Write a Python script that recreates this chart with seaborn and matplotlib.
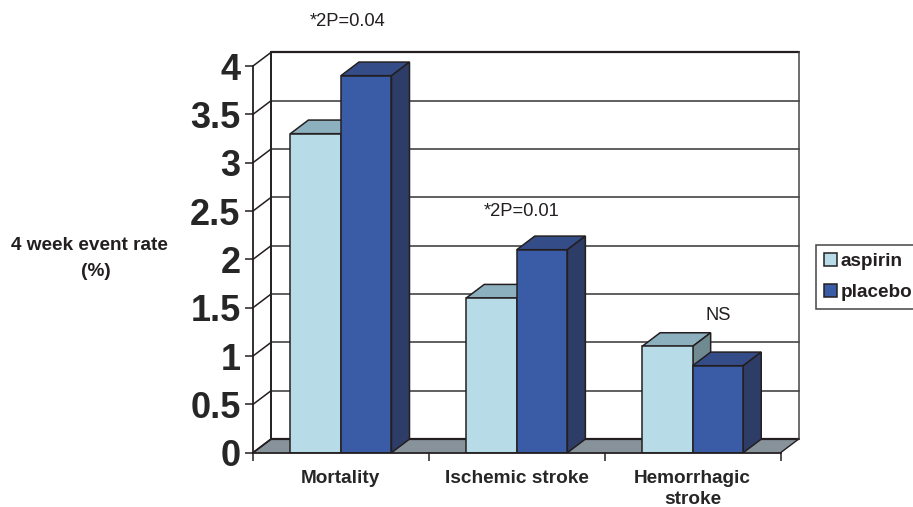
import pandas as pd
import numpy as np
import matplotlib
matplotlib.use('Agg')
import matplotlib.pyplot as plt
import seaborn as sns

outcomes = ['Mortality', 'Ischemic stroke', 'Hemorrhagic\nstroke']
aspirin = [3.3, 1.6, 1.1]
placebo = [3.9, 2.1, 0.9]
y_ticks = [0, 0.5, 1, 1.5, 2, 2.5, 3, 3.5, 4]
y_labels = ['0', '0.5', '1', '1.5', '2', '2.5', '3', '3.5', '4']

ink = '#231F20'
front_cols = {'aspirin': '#B7DCE7', 'placebo': '#3A5BA5'}
top_cols = {'aspirin': '#8DB0BF', 'placebo': '#344D88'}
side_cols = {'aspirin': '#6F8A91', 'placebo': '#2E3C68'}
floor_col = '#87929A'

sns.set_style('white')
plt.rcParams['font.family'] = ['Liberation Sans', 'DejaVu Sans']
plt.rcParams['text.color'] = ink

W, H = 913, 507
fig = plt.figure(figsize=(W / 100, H / 100), dpi=100)
left, right, top, bottom = 253, 780.6, 66, 452.7
ax = fig.add_axes([left / W, 1 - bottom / H, (right - left) / W, (bottom - top) / H])

df = pd.DataFrame({
    'outcome': outcomes * 2,
    'rate': aspirin + placebo,
    'group': ['aspirin'] * 3 + ['placebo'] * 3,
})
sns.barplot(data=df, x='outcome', y='rate', hue='group', palette=front_cols, saturation=1,
            width=0.575, gap=0, edgecolor=ink, linewidth=1.1, ax=ax, legend=False)

ax.set_xlim(-0.5, 2.5)
ax.set_ylim(0, 4)

# depth of the fake 3d box, in data units
dx = 18 / ((right - left) / 3)
dy = 13.6 / ((bottom - top) / 4)

# walls and grid
x0, x1 = -0.5, 2.5
ax.fill([x0, x0 + dx, x1 + dx, x1], [0, dy, dy, 0], color=floor_col, lw=0, zorder=1, clip_on=False)
ax.plot([x0, x0 + dx], [0, dy], color=ink, lw=1.2, zorder=1.5, clip_on=False)
ax.plot([x1, x1 + dx], [0, dy], color=ink, lw=1, zorder=1.5, clip_on=False)
for t in y_ticks:
    ax.plot([x0, x0 + dx], [t, t + dy], color=ink, lw=1.1, zorder=1.5, clip_on=False)
    if t > 0:
        col, lw = ('#444444', 1.2) if t < 4 else (ink, 1.6)
        ax.plot([x0 + dx, x1 + dx], [t + dy, t + dy], color=col, lw=lw, zorder=1.2, clip_on=False)
ax.plot([x0 + dx, x1 + dx], [dy, dy], color=ink, lw=1.6, zorder=1.5, clip_on=False)
ax.plot([x0 + dx, x0 + dx], [dy, 4 + dy], color=ink, lw=1.4, zorder=1.5, clip_on=False)
ax.plot([x1 + dx, x1 + dx], [dy, 4 + dy], color='#444444', lw=1.1, zorder=1.5, clip_on=False)

# top and side faces, taken from the bars seaborn drew
groups = ['aspirin'] * 3 + ['placebo'] * 3
for patch, group in zip(ax.patches, groups):
    z = 3 if group == 'aspirin' else 4
    bx, bw, bh = patch.get_x(), patch.get_width(), patch.get_height()
    patch.set_zorder(z + 0.1)
    ax.fill([bx, bx + dx, bx + bw + dx, bx + bw], [bh, bh + dy, bh + dy, bh],
            facecolor=top_cols[group], edgecolor=ink, lw=1.1, zorder=z, clip_on=False)
    ax.fill([bx + bw, bx + bw + dx, bx + bw + dx, bx + bw], [0, dy, bh + dy, bh],
            facecolor=side_cols[group], edgecolor=ink, lw=1.1, zorder=z, clip_on=False)

sns.despine(ax=ax, top=True, right=True)
for s in ['left', 'bottom']:
    ax.spines[s].set_color(ink)
    ax.spines[s].set_linewidth(1.3)
    ax.spines[s].set_zorder(5)

ax.set_yticks(y_ticks)
ax.set_yticklabels(y_labels, fontsize=26, fontweight='bold')
ax.tick_params(axis='y', left=True, length=6, width=1.1, color=ink, pad=3)
ax.set_xticks(range(3))
ax.set_xticklabels(outcomes, fontsize=13.7, fontweight='bold', linespacing=1.28)
ax.set_xticks([-0.5, 0.5, 1.5, 2.5], minor=True)
ax.tick_params(axis='x', which='major', length=0, pad=12.5)
ax.tick_params(axis='x', which='minor', bottom=True, length=6, width=1.1, color=ink)
ax.set_xlabel('')
ax.set_ylabel('')

fig.text(89 / W, 1 - 245 / H, '4 week event rate', fontsize=13.7, fontweight='bold',
         ha='center', va='center')
fig.text(96 / W, 1 - 271 / H, '(%)', fontsize=13.7, fontweight='bold', ha='center', va='center')
fig.text(347.5 / W, 1 - 21 / H, '*2P=0.04', fontsize=13.2, ha='center', va='center')
fig.text(522 / W, 1 - 211 / H, '*2P=0.01', fontsize=13.2, ha='center', va='center')
fig.text(718 / W, 1 - 315 / H, 'NS', fontsize=13.2, ha='center', va='center')

handles = [plt.Rectangle((0, 0), 1, 1, facecolor=front_cols[g], edgecolor=ink, lw=1.1)
           for g in ['aspirin', 'placebo']]
leg = fig.legend(handles, ['aspirin', 'placebo'], loc='upper left',
                 bbox_to_anchor=(815.7 / W, 1 - 245 / H), bbox_transform=fig.transFigure,
                 prop={'weight': 'bold', 'size': 13.6, 'family': 'Liberation Sans'},
                 frameon=True, fancybox=False, edgecolor='#444444', framealpha=1,
                 handlelength=0.7, handleheight=0.7, handletextpad=0.2,
                 borderaxespad=0, borderpad=0.42, labelspacing=0.72)
leg.get_frame().set_linewidth(1.1)

fig.savefig('out.png', dpi=100)
